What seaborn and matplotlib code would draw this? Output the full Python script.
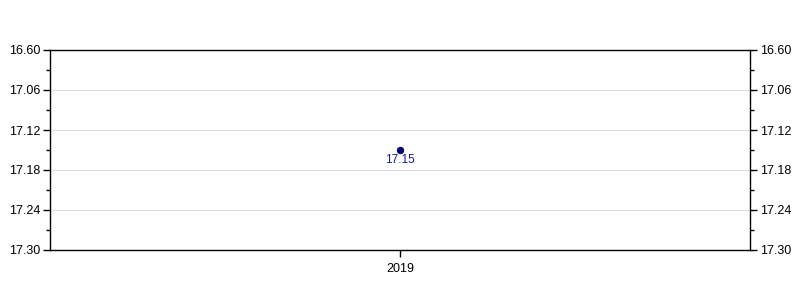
import matplotlib
matplotlib.use("Agg")
import matplotlib.pyplot as plt
import seaborn as sns
import pandas as pd
from matplotlib.ticker import FixedLocator

years = ["2019"]
values = [17.15]
ytick_vals = [17.00, 17.06, 17.12, 17.18, 17.24, 17.30]
ytick_labels = ["16.60", "17.06", "17.12", "17.18", "17.24", "17.30"]

sns.set_theme(style="white")
plt.rcParams["font.family"] = ["Liberation Sans", "DejaVu Sans"]

df = pd.DataFrame({"year": years, "value": values})

fig = plt.figure(figsize=(8, 3), dpi=100)
ax = fig.add_axes([0.0625, 1/6, 0.875, 2/3])

sns.scatterplot(data=df, x="year", y="value", ax=ax, color="#00008b",
                edgecolor="#000033", linewidth=0.6, s=22, zorder=5, legend=False)

for i, (yr, v) in enumerate(zip(years, values)):
    ax.annotate(f"{v:.2f}", (i, v), xytext=(0, -3), textcoords="offset points",
                ha="center", va="top", fontsize=8.5, color="#1a1aaa")

ax.set_xlim(-0.5, 0.5)
ax.set_ylim(17.30, 17.00)
ax.yaxis.set_major_locator(FixedLocator(ytick_vals))
ax.set_yticklabels(ytick_labels)
ax.yaxis.set_minor_locator(FixedLocator([17.03, 17.09, 17.15, 17.21, 17.27]))
ax.set_xlabel("")
ax.set_ylabel("")

ax.grid(axis="y", which="major", color="#dddddd", linewidth=0.8)
ax.set_axisbelow(True)

for s in ax.spines.values():
    s.set_color("black")
    s.set_linewidth(1.0)

ax.tick_params(axis="both", which="major", direction="out", length=5, width=1,
               color="black", labelsize=9, labelcolor="black", pad=2)
ax.tick_params(axis="y", which="minor", direction="out", length=3, width=1, color="black")
ax.tick_params(axis="y", which="both", left=True, right=True, labelleft=True, labelright=True)
ax.tick_params(axis="x", which="major", bottom=True, pad=4)

fig.savefig("out.png", dpi=100)
